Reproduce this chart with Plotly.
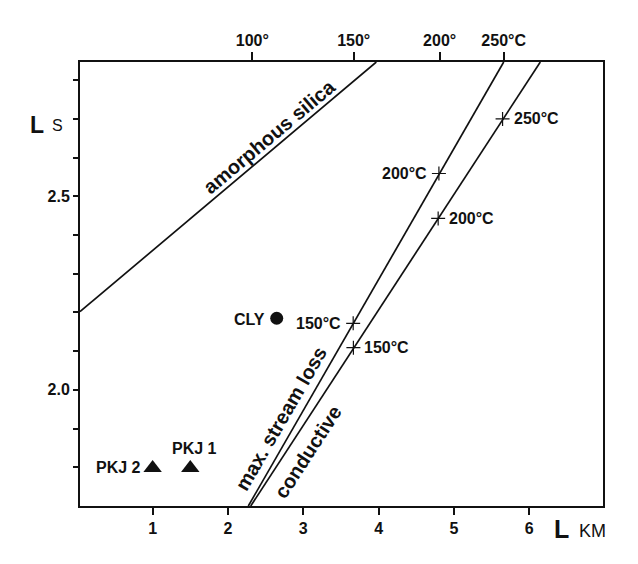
import plotly.graph_objects as go

# ---- data ----
x_tick_vals = [1, 2, 3, 4, 5, 6]
y_tick_vals = [1.8, 1.9, 2.0, 2.1, 2.2, 2.3, 2.4, 2.5, 2.6, 2.7, 2.8]
y_tick_text = ["", "", "2.0", "", "", "", "", "2.5", "", "", ""]
temp_tick_x = [2.323, 3.669, 4.810, 5.660]
temp_tick_text = ["100°", "150°", "200°", "250°C"]

silica_x = [0.036, 3.969]
silica_y = [2.202, 2.847]
msl_x = [2.270, 5.660]
msl_y = [1.700, 2.847]
cond_x = [2.302, 6.146]
cond_y = [1.700, 2.847]

msl_temp_x = [3.662, 4.800]
msl_temp_y = [2.172, 2.559]
msl_temp_text = ["150°C", "200°C"]
cond_temp_x = [3.665, 4.790, 5.645]
cond_temp_y = [2.109, 2.443, 2.700]
cond_temp_text = ["150°C", "200°C", "250°C"]

circle_name = ["CLY"]
circle_x = [2.647]
circle_y = [2.185]
tri_names = ["PKJ 2", "PKJ 1"]
tri_x = [1.0, 1.5]
tri_y = [1.798, 1.798]

X_RANGE = [0.036, 6.978]
Y_RANGE = [1.700, 2.847]

FONT = "Liberation Sans, Arial, sans-serif"
INK = "#111111"

fig = go.Figure()

for lx, ly in [(silica_x, silica_y), (msl_x, msl_y), (cond_x, cond_y)]:
    fig.add_trace(go.Scatter(x=lx, y=ly, mode="lines",
                             line=dict(color=INK, width=1.7),
                             hoverinfo="skip", showlegend=False))

fig.add_trace(go.Scatter(x=msl_temp_x + cond_temp_x, y=msl_temp_y + cond_temp_y,
                         mode="markers",
                         marker=dict(symbol="cross-thin", size=10,
                                     line=dict(color=INK, width=1.2)),
                         showlegend=False, hoverinfo="skip"))

fig.add_trace(go.Scatter(x=circle_x, y=circle_y, mode="markers",
                         marker=dict(symbol="circle", size=13, color=INK),
                         showlegend=False))
fig.add_trace(go.Scatter(x=tri_x, y=tri_y, mode="markers",
                         marker=dict(symbol="triangle-up", size=16, color=INK),
                         showlegend=False))

# dummy trace for the top temperature axis
fig.add_trace(go.Scatter(x=temp_tick_x, y=[None] * len(temp_tick_x),
                         xaxis="x2", mode="markers", showlegend=False,
                         hoverinfo="skip"))

lab_font = dict(family=FONT, size=16, color=INK, weight="bold")
ann = []
for x, y, t in zip(msl_temp_x, msl_temp_y, msl_temp_text):
    ann.append(dict(x=x, y=y, text=t, xref="x", yref="y", showarrow=False,
                    xanchor="right", yanchor="middle", xshift=-10, font=lab_font))
for x, y, t in zip(cond_temp_x, cond_temp_y, cond_temp_text):
    ann.append(dict(x=x, y=y, text=t, xref="x", yref="y", showarrow=False,
                    xanchor="left", yanchor="middle", xshift=9, font=lab_font))

ann.append(dict(x=circle_x[0], y=circle_y[0], text=circle_name[0], xref="x", yref="y",
                showarrow=False, xanchor="right", yanchor="middle", xshift=-10,
                yshift=-1, font=lab_font))
ann.append(dict(x=tri_x[0], y=tri_y[0], text=tri_names[0], xref="x", yref="y",
                showarrow=False, xanchor="right", yanchor="middle", xshift=-10,
                yshift=1, font=lab_font))
ann.append(dict(x=tri_x[1], y=tri_y[1], text=tri_names[1], xref="x", yref="y",
                showarrow=False, xanchor="center", yanchor="middle", xshift=4,
                yshift=20, font=lab_font))

line_font = dict(family=FONT, size=20, color=INK, weight="bold")
ann.append(dict(x=2.545, y=2.653, text="amorphous silica", xref="x", yref="y",
                showarrow=False, textangle=-40, font=line_font))
ann.append(dict(x=2.700, y=1.925, text="max. stream loss", xref="x", yref="y",
                showarrow=False, textangle=-60, font=line_font))
ann.append(dict(x=3.060, y=1.840, text="conductive", xref="x", yref="y",
                showarrow=False, textangle=-57, font=line_font))

# axis titles
ann.append(dict(x=(36.5 - 80) / 523, y=(506 - 125) / 444, xref="paper", yref="paper",
                text="L", showarrow=False, xanchor="center", yanchor="middle",
                font=dict(family=FONT, size=23, color=INK, weight="bold")))
ann.append(dict(x=(57.5 - 80) / 523, y=(506 - 125) / 444, xref="paper", yref="paper",
                text="S", showarrow=False, xanchor="center", yanchor="middle",
                font=dict(family=FONT, size=16, color=INK)))
ann.append(dict(x=(561.3 - 80) / 523, y=(506 - 529) / 444, xref="paper", yref="paper",
                text="L", showarrow=False, xanchor="center", yanchor="middle",
                font=dict(family=FONT, size=25, color=INK, weight="bold")))
ann.append(dict(x=(592 - 80) / 523, y=(506 - 531) / 444, xref="paper", yref="paper",
                text="KM", showarrow=False, xanchor="center", yanchor="middle",
                font=dict(family=FONT, size=18, color=INK)))

tick_font = dict(family=FONT, size=16, color=INK, weight="bold")
fig.update_layout(
    width=638, height=564,
    margin=dict(l=80, r=35, t=62, b=58, pad=0),
    paper_bgcolor="white", plot_bgcolor="white",
    showlegend=False,
    annotations=ann,
    xaxis=dict(range=X_RANGE, tickvals=x_tick_vals, ticks="outside", ticklen=7,
               tickwidth=2, tickcolor=INK, showline=True, linecolor=INK,
               linewidth=2, mirror=True, showgrid=False, zeroline=False,
               tickfont=tick_font),
    xaxis2=dict(range=X_RANGE, overlaying="x", side="top", tickvals=temp_tick_x,
                ticktext=temp_tick_text, ticks="outside", ticklen=8, tickwidth=2,
                tickcolor=INK, showline=True, linecolor=INK, linewidth=2,
                showgrid=False, zeroline=False, tickfont=tick_font),
    yaxis=dict(range=Y_RANGE, tickvals=y_tick_vals, ticktext=y_tick_text,
               ticks="outside", ticklen=5, tickwidth=2, tickcolor=INK,
               showline=True, linecolor=INK, linewidth=2, mirror=True,
               showgrid=False, zeroline=False, tickfont=tick_font),
)

fig.write_html("out.html")
